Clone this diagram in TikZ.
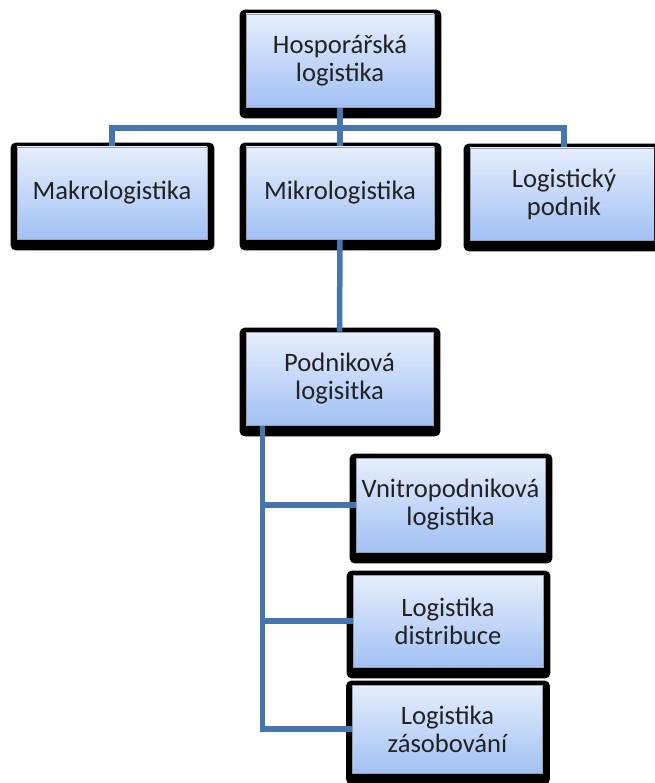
\documentclass[tikz,border=0pt]{standalone}
\usepackage{fontspec}
\setmainfont{Carlito}
\usetikzlibrary{calc}
\definecolor{boxtop}{RGB}{230,238,252}
\definecolor{boxmid}{RGB}{204,221,250}
\definecolor{boxbot}{RGB}{162,193,244}
\definecolor{boxedge}{RGB}{150,160,176}
\definecolor{linkblue}{RGB}{70,118,175}
\definecolor{textgray}{RGB}{34,34,34}
\pgfdeclarelayer{shadow}
\pgfdeclarelayer{links}
\pgfsetlayers{shadow,links,main}
\tikzset{
  orgbox/.style={rectangle, minimum width=188pt, minimum height=92pt, inner sep=0pt,
    top color=boxtop, middle color=boxmid, bottom color=boxbot, draw=boxedge, line width=0.7pt,
    align=center, text=textgray, font=\fontsize{26.6}{28}\selectfont},
  link/.style={draw=linkblue, line width=5.5pt, line join=miter},
  boxshadow/.style={fill=black, rounded corners=5pt}
}
\begin{document}
\begin{tikzpicture}[x=1pt,y=-1pt]
\useasboundingbox (0,0) rectangle (654,783);
\clip (0,0) rectangle (654,783);

% boxes
\node[orgbox, minimum height=93pt] (top) at (340,60.5) {Hosporářská\\logistika};
\node[orgbox, minimum width=190pt] (makro) at (112,193) {Makrologistika};
\node[orgbox] (mikro) at (340,193) {Mikrologistika};
\node[orgbox] (logist) at (564,194) {Logistický\\podnik};
\node[orgbox, minimum width=187pt, minimum height=93pt] (podnik) at (339.5,378.5) {Podniková\\logisitka};
\node[orgbox, minimum width=189pt, minimum height=94pt] (vnitro) at (450.5,505) {Vnitropodniková\\logistika};
\node[orgbox, minimum width=190pt] (distrib) at (448,621) {Logistika\\distribuce};
\node[orgbox, minimum width=190pt, minimum height=88pt] (zasob) at (447.5,729) {Logistika\\zásobování};

% heavy black shadows behind each box
\begin{pgfonlayer}{shadow}
\foreach \n in {top,makro,mikro,logist,podnik,vnitro,distrib,zasob}
  \fill[boxshadow] ([shift={(-6pt,4pt)}]\n.north west) rectangle ([shift={(7pt,-11pt)}]\n.south east);
\end{pgfonlayer}

% connectors
\begin{pgfonlayer}{links}
\coordinate (bar) at (340,128);
\draw[link] (top.south) -- (mikro.north);
\draw[link] (makro.north) |- (bar) -| (logist.north);
\draw[link] (mikro.south) -- (podnik.north);
\coordinate (trunk) at ([xshift=17pt]podnik.south west);
\draw[link] (trunk) |- (vnitro.west);
\draw[link] (trunk) |- (distrib.west);
\draw[link] (trunk) |- (zasob.west);
\end{pgfonlayer}
\end{tikzpicture}
\end{document}
